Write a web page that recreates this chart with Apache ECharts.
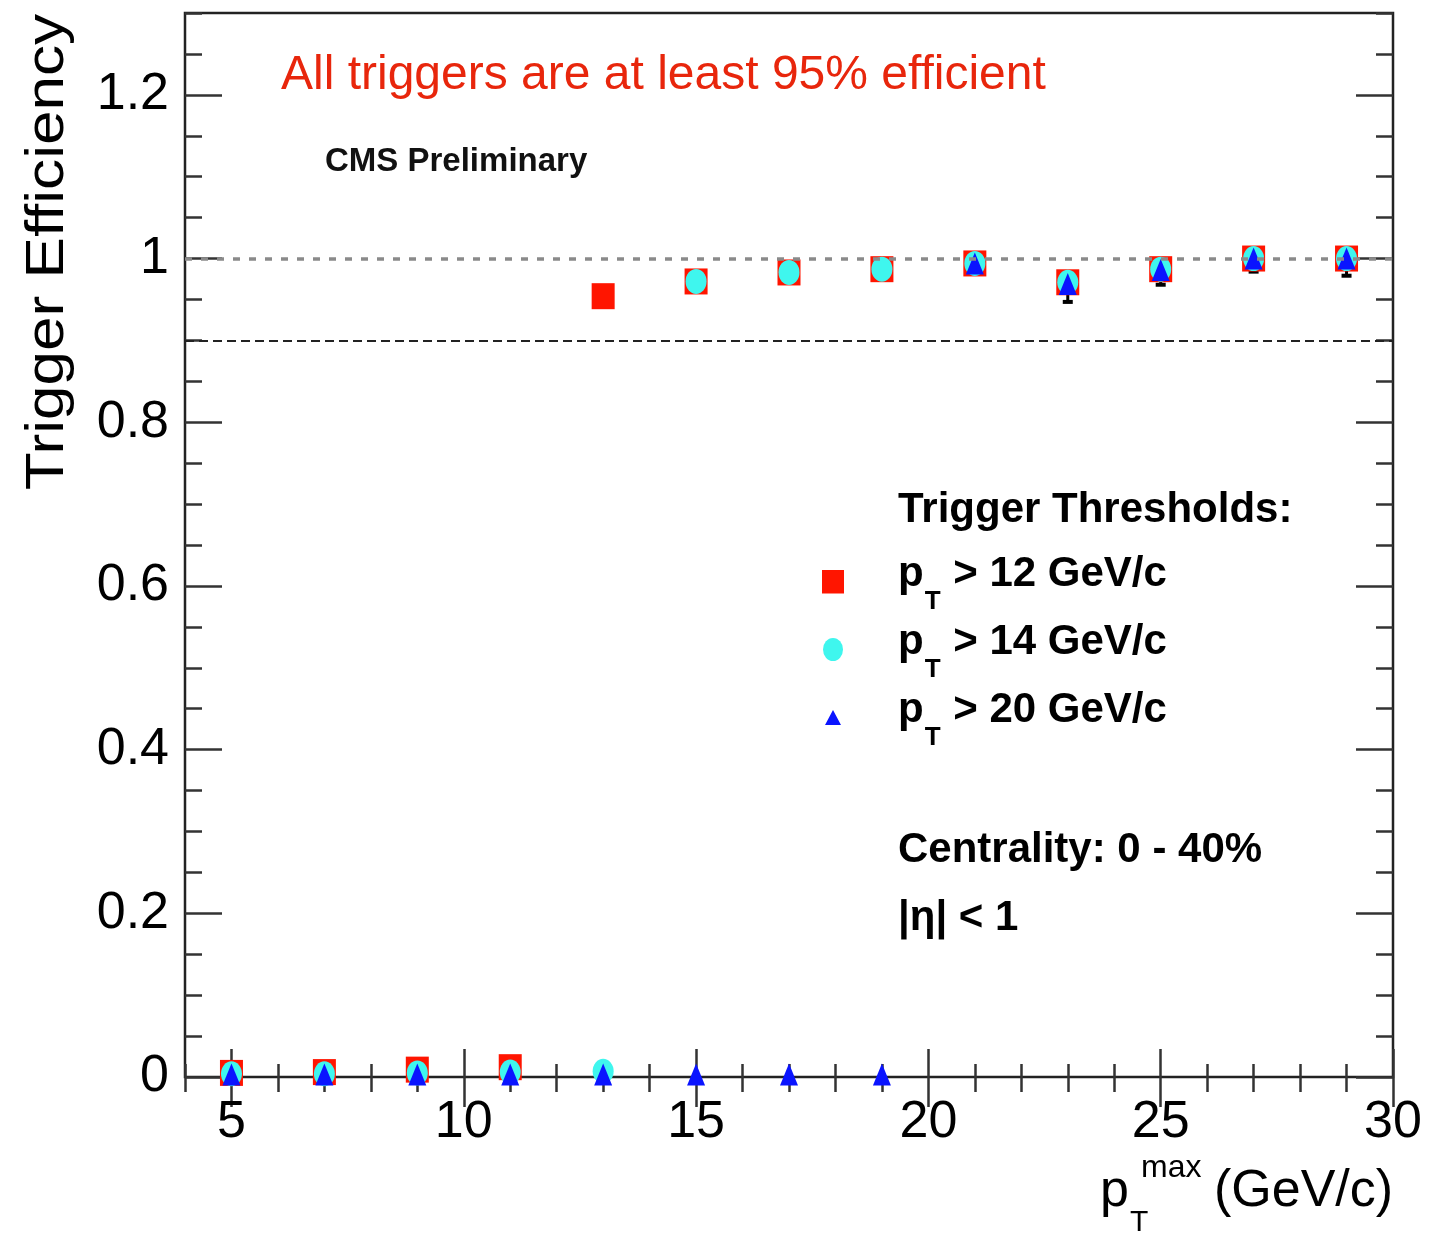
<!DOCTYPE html>
<html>
<head>
<meta charset="utf-8">
<script src="https://cdn.jsdelivr.net/npm/echarts@6/dist/echarts.min.js"></script>
<style>
html,body{margin:0;padding:0;background:#fff;}
#chart{width:1433px;height:1238px;}
</style>
</head>
<body>
<div id="chart"></div>
<script>
// ---- data ----
const xCenters = [5, 7, 9, 11, 13, 15, 17, 19, 21, 23, 25, 27, 29];
const effPt12 = [0.005, 0.006, 0.009, 0.012, 0.954, 0.972, 0.983, 0.987, 0.994, 0.971, 0.987, 1.0, 1.0];
const effPt14 = [0.004, 0.004, 0.005, 0.006, 0.007, 0.972, 0.983, 0.987, 0.994, 0.971, 0.987, 1.0, 1.0];
const effPt20 = [0.003, 0.003, 0.003, 0.003, 0.003, 0.003, 0.003, 0.003, 0.994, 0.969, 0.986, 1.0, 1.0];
const errLowPt20 = [0, 0, 0, 0, 0, 0, 0, 0, 0.008, 0.022, 0.018, 0.016, 0.021];
const errHighPt20 = [0, 0, 0, 0, 0, 0, 0, 0, 0.004, 0.01, 0.008, 0.0, 0.0];
const seriesNames = ['pT > 12 GeV/c', 'pT > 14 GeV/c', 'pT > 20 GeV/c'];
const thresholds = ['12', '14', '20'];
const xTickValues = [5, 10, 15, 20, 25, 30];
const yTickValues = [0, 0.2, 0.4, 0.6, 0.8, 1, 1.2];
const refLines = [1.0, 0.9];

const FONT = '"Liberation Sans", Arial, Helvetica, sans-serif';
const AX = '#333';

function pts(vals) { return xCenters.map((x, i) => [x, vals[i]]); }

const chart = echarts.init(document.getElementById('chart'), null, {renderer: 'canvas'});

const baseX = {type: 'value', min: 4, max: 30, axisLine: {show: false}, splitLine: {show: false}};
const baseY = {type: 'value', min: 0, max: 1.3, axisLine: {show: false}, splitLine: {show: false}};

const option = {
  animation: false,
  backgroundColor: '#fff',
  grid: {left: 185, right: 40, top: 13, bottom: 161, show: true, borderColor: '#222', borderWidth: 2.5, backgroundColor: 'transparent'},
  xAxis: [
    Object.assign({}, baseX, {position: 'bottom',
      axisTick: {inside: true, length: 28, customValues: xTickValues, lineStyle: {color: AX, width: 2.5}},
      axisLabel: {customValues: xTickValues, fontSize: 52, color: '#000', fontFamily: FONT, margin: 20}}),
    Object.assign({}, baseX, {position: 'bottom', interval: 1,
      axisTick: {inside: true, length: 13, lineStyle: {color: AX, width: 2.5}}, axisLabel: {show: false}}),
    Object.assign({}, baseX, {position: 'top',
      axisTick: {inside: true, length: 30, customValues: xTickValues, lineStyle: {color: AX, width: 2.5}}, axisLabel: {show: false}}),
    Object.assign({}, baseX, {position: 'top', interval: 1,
      axisTick: {inside: true, length: 15, lineStyle: {color: AX, width: 2.5}}, axisLabel: {show: false}})
  ],
  yAxis: [
    Object.assign({}, baseY, {position: 'left',
      axisTick: {inside: true, length: 37, customValues: yTickValues, lineStyle: {color: AX, width: 2.5}},
      axisLabel: {customValues: yTickValues, fontSize: 52, color: '#000', fontFamily: FONT, margin: 16,
        formatter: v => String(Math.round(v * 10) / 10)}}),
    Object.assign({}, baseY, {position: 'left', interval: 0.05,
      axisTick: {inside: true, length: 17, lineStyle: {color: AX, width: 2.5}}, axisLabel: {show: false}}),
    Object.assign({}, baseY, {position: 'right',
      axisTick: {inside: true, length: 37, customValues: yTickValues, lineStyle: {color: AX, width: 2.5}}, axisLabel: {show: false}}),
    Object.assign({}, baseY, {position: 'right', interval: 0.05,
      axisTick: {inside: true, length: 17, lineStyle: {color: AX, width: 2.5}}, axisLabel: {show: false}})
  ],
  legend: {
    orient: 'vertical', left: 821, top: 548, padding: 0, itemGap: 1,
    itemWidth: 24, itemHeight: 24, selectedMode: false,
    data: [
      {name: seriesNames[0], icon: 'path://M0,0M24,24M1,0.5L23,0.5L23,24L1,24Z'},
      {name: seriesNames[1], icon: 'path://M0,0M24,24M12,0.5A10,11.5,0,1,1,12,23.5A10,11.5,0,1,1,12,0.5Z'},
      {name: seriesNames[2], icon: 'path://M0,0M24,24M12,4.5L20,19.5L4,19.5Z'}
    ],
    formatter: function (name) {
      const t = thresholds[seriesNames.indexOf(name)];
      return '{p|p}{s|T}{m| > ' + t + ' GeV/c}';
    },
    textStyle: {
      rich: {
        p: {fontSize: 42, fontWeight: 'bold', fontFamily: FONT, color: '#000', lineHeight: 57, padding: [5, 0, 0, 48], verticalAlign: 'top'},
        m: {fontSize: 42, fontWeight: 'bold', fontFamily: FONT, color: '#000', lineHeight: 57, padding: [5, 0, 0, 0], verticalAlign: 'top'},
        s: {fontSize: 26, fontWeight: 'bold', fontFamily: FONT, color: '#000', lineHeight: 67, padding: [41, 1, 0, 1], verticalAlign: 'top'}
      }
    }
  },
  series: [
    {
      type: 'custom', name: 'err', xAxisIndex: 0, yAxisIndex: 0, z: 1, silent: true,
      data: xCenters.map((x, i) => [x, effPt20[i], errLowPt20[i], errHighPt20[i]]).filter(d => d[2] > 0),
      renderItem: function (params, api) {
        const x = api.value(0), y = api.value(1);
        const lo = api.coord([x, y - api.value(2)]);
        const hi = api.coord([x, y + api.value(3)]);
        return {type: 'group', children: [
          {type: 'line', shape: {x1: lo[0], y1: lo[1], x2: hi[0], y2: hi[1]}, style: {stroke: '#000', lineWidth: 3}},
          {type: 'line', shape: {x1: lo[0] - 5, y1: lo[1], x2: lo[0] + 5, y2: lo[1]}, style: {stroke: '#000', lineWidth: 4}}
        ]};
      }
    },
    {
      name: seriesNames[0], type: 'scatter', xAxisIndex: 0, yAxisIndex: 0, z: 2,
      symbol: 'rect', symbolSize: [23, 26], itemStyle: {color: '#ff1500', opacity: 1},
      data: pts(effPt12),
      markLine: {
        silent: true, symbol: 'none', label: {show: false}, animation: false,
        data: [
          {yAxis: refLines[0], lineStyle: {color: '#8a8a8a', width: 3.5, type: [7, 9]}},
          {yAxis: refLines[1], lineStyle: {color: '#222', width: 2, type: [9, 5]}}
        ]
      }
    },
    {
      name: seriesNames[1], type: 'scatter', xAxisIndex: 0, yAxisIndex: 0, z: 3,
      symbol: 'circle', symbolSize: [21, 25], itemStyle: {color: '#3ff6ee', opacity: 1},
      data: pts(effPt14)
    },
    {
      name: seriesNames[2], type: 'scatter', xAxisIndex: 0, yAxisIndex: 0, z: 4,
      symbol: 'triangle', symbolSize: [18, 22], itemStyle: {color: '#0a14ff', opacity: 1},
      data: pts(effPt20)
    }
  ],
  graphic: [
    {type: 'text', left: 281, top: 52, z: 10, style: {text: 'All triggers are at least 95% efficient', font: '48px ' + FONT, fill: '#e8260c'}},
    {type: 'text', left: 325, top: 145, z: 10, style: {text: 'CMS Preliminary', font: 'bold 33px ' + FONT, fill: '#111'}},
    {type: 'text', left: 898, top: 489, z: 10, style: {text: 'Trigger Thresholds:', font: 'bold 42px ' + FONT, fill: '#000'}},
    {type: 'text', left: 898, top: 829, z: 10, style: {text: 'Centrality: 0 - 40%', font: 'bold 42px ' + FONT, fill: '#000'}},
    {type: 'text', left: 898, top: 897, z: 10, style: {text: '|\u03b7| < 1', font: 'bold 42px ' + FONT, fill: '#000'}},
    {type: 'text', x: 48, y: 252, rotation: Math.PI / 2, scaleX: 1.15, z: 10,
      style: {text: 'Trigger Efficiency', font: '54px ' + FONT, fill: '#000', align: 'center', verticalAlign: 'middle'}},
    {type: 'text', left: 1100, top: 1166, z: 10, style: {text: 'p', font: '52px ' + FONT, fill: '#000'}},
    {type: 'text', left: 1141, top: 1152, z: 10, style: {text: 'max', font: '32px ' + FONT, fill: '#000'}},
    {type: 'text', left: 1130, top: 1208, z: 10, style: {text: 'T', font: '30px ' + FONT, fill: '#000'}},
    {type: 'text', left: 1214, top: 1166, z: 10, style: {text: '(GeV/c)', font: '52px ' + FONT, fill: '#000'}}
  ]
};
chart.setOption(option);
</script>
</body>
</html>
